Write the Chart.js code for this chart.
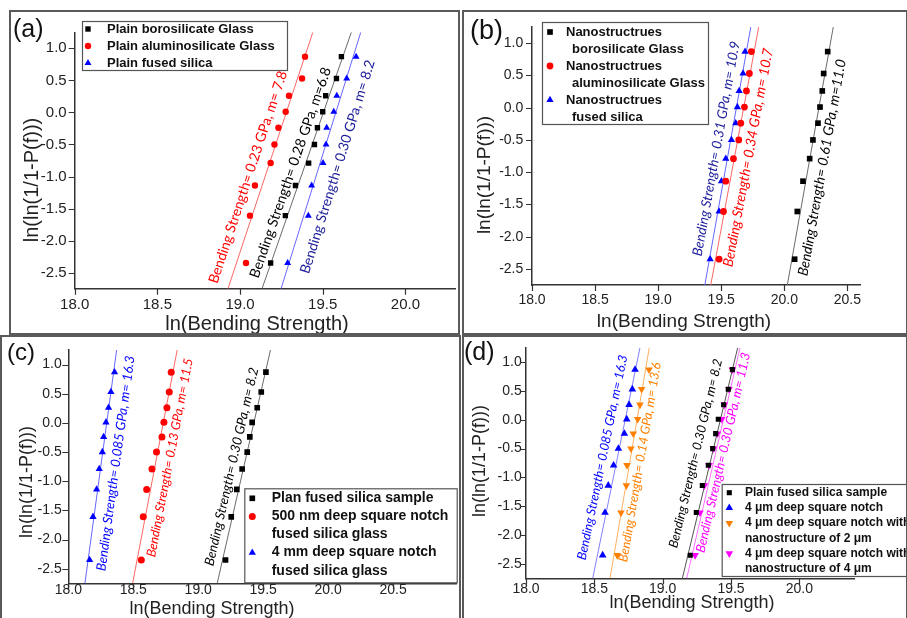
<!DOCTYPE html>
<html>
<head>
<meta charset="utf-8">
<title>Weibull plots of bending strength</title>
<script src="https://cdn.jsdelivr.net/npm/chart.js@4.4.0/dist/chart.umd.min.js"></script>
<style>
  html, body { margin: 0; padding: 0; background: #fff; }
  #fig { position: relative; width: 907px; height: 618px; overflow: hidden; background: #fff; }
  .panel { position: absolute; overflow: hidden; }
  .panel canvas { position: absolute; left: 0; top: 0; }
  .frame { position: absolute; box-sizing: border-box; border: 2px solid #5a5a5a; pointer-events: none; }
</style>
</head>
<body>
<div id="fig">
  <div class="panel" style="left:9px;top:10px;width:451px;height:325px"><canvas id="chartA" width="451" height="325"></canvas></div>
  <div class="panel" style="left:462px;top:10px;width:445px;height:325px"><canvas id="chartB" width="445" height="325"></canvas></div>
  <div class="panel" style="left:0;top:335px;width:461px;height:283px"><canvas id="chartC" width="461" height="283"></canvas></div>
  <div class="panel" style="left:462px;top:335px;width:445px;height:283px"><canvas id="chartD" width="445" height="283"></canvas></div>
  <div class="frame" style="left:9px;top:10px;width:451px;height:325px"></div>
  <div class="frame" style="left:462px;top:10px;width:446px;height:325px"></div>
  <div class="frame" style="left:0;top:335px;width:461px;height:290px"></div>
  <div class="frame" style="left:462px;top:335px;width:446px;height:290px"></div>
</div>
<script>
// ln(ln(1/(1-P))) plotting positions, same ten ranks for every series
const rankY = [-2.35, -1.61, -1.14, -0.79, -0.50, -0.24, 0.01, 0.26, 0.53, 0.87];
// fitted lines run from the bottom to the top of the y range
const fitY = [-2.75, 1.25];

const xTitle = 'ln(Bending Strength)';
const yTitle = 'ln(ln(1/1-P(f)))';

// (a) plain glasses
const aBoroX  = [19.185, 19.274, 19.335, 19.415, 19.450, 19.468, 19.500, 19.518, 19.583, 19.613];
const aAlumX  = [19.036, 19.060, 19.090, 19.185, 19.208, 19.232, 19.276, 19.296, 19.375, 19.393];
const aFusedX = [19.288, 19.413, 19.433, 19.502, 19.520, 19.524, 19.567, 19.585, 19.645, 19.702];
const aBoroFit  = [19.133, 19.673];
const aAlumFit  = [18.927, 19.440];
const aFusedFit = [19.248, 19.730];

// (b) nanostructured glasses
const bBoroX  = [20.082, 20.103, 20.148, 20.201, 20.227, 20.267, 20.283, 20.301, 20.312, 20.344];
const bAlumX  = [19.483, 19.518, 19.536, 19.597, 19.639, 19.655, 19.684, 19.700, 19.723, 19.739];
const bFusedX = [19.412, 19.483, 19.502, 19.536, 19.581, 19.615, 19.628, 19.642, 19.673, 19.689];
const bBoroFit  = [20.024, 20.388];
const bAlumFit  = [19.417, 19.797];
const bFusedFit = [19.370, 19.734];

// (c) notched fused silica
const cPlainX = [19.210, 19.254, 19.297, 19.338, 19.377, 19.397, 19.415, 19.454, 19.485, 19.521];
const c500nmX = [18.562, 18.577, 18.603, 18.644, 18.679, 18.721, 18.736, 18.759, 18.777, 18.792];
const c4mmX   = [18.164, 18.190, 18.218, 18.238, 18.262, 18.272, 18.290, 18.310, 18.328, 18.356];
const cPlainFit = [19.146, 19.556];
const c500nmFit = [18.495, 18.838];
const c4mmFit   = [18.128, 18.372];

// (d) notched + nanostructured fused silica
const dPlainX = [19.202, 19.246, 19.290, 19.334, 19.366, 19.388, 19.407, 19.446, 19.480, 19.510];
const dNotchX = [18.561, 18.578, 18.602, 18.641, 18.676, 18.720, 18.737, 18.754, 18.778, 18.798];
const dNano2X = [18.668, 18.695, 18.734, 18.739, 18.768, 18.785, 18.817, 18.834, 18.846, 18.900];
const dNano4X = [19.237, 19.273, 19.305, 19.339, 19.371, 19.400, 19.432, 19.451, 19.485, 19.510];
const dPlainFit = [19.144, 19.549];
const dNotchFit = [18.488, 18.834];
const dNano2Fit = [18.615, 18.902];
const dNano4Fit = [19.176, 19.566];

const SANS = '"Liberation Sans", Arial, sans-serif';
const major = v => Math.abs(v * 2 - Math.round(v * 2)) < 1e-6;

function drawMarker(ctx, s, x, y) {
  ctx.fillStyle = s.color;
  ctx.strokeStyle = s.color;
  Chart.helpers.drawPoint(ctx, { pointStyle: s.shape, radius: s.r, rotation: s.rot || 0, borderWidth: 0 }, x, y);
}

// ticks, notes along the fits, panel tag, axis titles and the boxed legend
function decor(P) {
  return {
    id: 'decor',
    afterDraw(chart) {
      const ctx = chart.ctx, xs = chart.scales.x, ys = chart.scales.y, ca = chart.chartArea;
      ctx.save();

      ctx.strokeStyle = '#333';
      ctx.lineWidth = 1.2;
      ctx.beginPath();
      xs.ticks.forEach(t => {
        const p = Math.round(xs.getPixelForValue(t.value)) + 0.5;
        ctx.moveTo(p, ca.bottom);
        ctx.lineTo(p, ca.bottom + (major(t.value) ? 6 : 3.5));
      });
      ys.ticks.forEach(t => {
        const p = Math.round(ys.getPixelForValue(t.value)) + 0.5;
        ctx.moveTo(ca.left, p);
        ctx.lineTo(ca.left - (major(t.value) ? 6 : 3.5), p);
      });
      ctx.stroke();

      const n = P.series.length;
      P.series.forEach((s, i) => {
        const pts = chart.getDatasetMeta(n + i).data;
        const ang = Math.atan2(pts[1].y - pts[0].y, pts[1].x - pts[0].x);
        const cx = xs.getPixelForValue(s.noteAt[0]);
        const cy = ys.getPixelForValue(s.noteAt[1]);
        ctx.font = P.noteStyle + ' 20px Lato';
        const fs = 20 * s.noteLen / ctx.measureText(s.note).width;
        ctx.font = P.noteStyle + ' ' + fs.toFixed(2) + 'px Lato';
        ctx.save();
        ctx.translate(cx, cy);
        ctx.rotate(ang);
        ctx.fillStyle = s.noteColor;
        ctx.textAlign = 'center';
        ctx.textBaseline = 'middle';
        ctx.fillText(s.note, 0, 0);
        ctx.restore();
      });

      ctx.textBaseline = 'middle';
      ctx.textAlign = 'left';
      ctx.fillStyle = '#111';
      ctx.font = P.tag.size + 'px ' + SANS;
      ctx.fillText(P.tag.text, P.tag.x, P.tag.y);

      ctx.fillStyle = '#222';
      ctx.textAlign = 'center';
      ctx.font = P.titleSize + 'px ' + SANS;
      ctx.fillText(xTitle, P.xTitle[0], P.xTitle[1]);
      ctx.save();
      ctx.translate(P.yTitle[0], P.yTitle[1]);
      ctx.rotate(-Math.PI / 2);
      ctx.fillText(yTitle, 0, 0);
      ctx.restore();

      const L = P.legend;
      ctx.fillStyle = '#fff';
      ctx.fillRect(L.x, L.y, L.w, L.h);
      ctx.strokeStyle = '#555';
      ctx.lineWidth = 1.2;
      ctx.strokeRect(L.x + 0.5, L.y + 0.5, L.w, L.h);
      ctx.font = 'bold ' + L.font + 'px ' + SANS;
      ctx.textAlign = 'left';
      let row = 0;
      P.series.forEach(s => {
        drawMarker(ctx, s, L.mx, L.y0 + row * L.dy);
        ctx.fillStyle = '#111';
        s.name.forEach((line, k) => {
          ctx.fillText(line, L.tx + (k ? L.indent : 0), L.y0 + (row + k) * L.dy);
        });
        row += s.name.length;
      });
      ctx.restore();
    }
  };
}

function makePanel(id, P) {
  const datasets = [];
  P.series.forEach(s => {
    datasets.push({
      label: s.name.join(' '),
      data: s.x.map((x, k) => ({ x, y: rankY[k] })),
      pointStyle: s.shape,
      pointRadius: s.r,
      pointRotation: s.rot || 0,
      backgroundColor: s.color,
      borderColor: s.color,
      borderWidth: 0,
      order: 1
    });
  });
  P.series.forEach(s => {
    datasets.push({
      label: s.name.join(' ') + ' fit',
      data: s.fit.map((x, k) => ({ x, y: fitY[k] })),
      showLine: true,
      borderColor: s.line,
      borderWidth: 1,
      pointRadius: 0,
      order: 2
    });
  });

  const tickFont = { family: SANS, size: P.tickSize };
  const label = v => (major(v) ? v.toFixed(1) : null);

  return new Chart(document.getElementById(id), {
    type: 'scatter',
    data: { datasets },
    options: {
      responsive: false,
      animation: false,
      events: [],
      layout: { padding: P.pad },
      plugins: { legend: { display: false }, tooltip: { enabled: false } },
      scales: {
        x: {
          type: 'linear', min: 18, max: P.xMax,
          afterFit: s => { s.height = P.xHeight; },
          grid: { display: false, drawTicks: false },
          border: { display: true, color: '#333', width: 1.5 },
          ticks: {
            stepSize: 0.25, includeBounds: false, autoSkip: false, maxRotation: 0,
            padding: P.xPad, color: '#222', font: tickFont, callback: label
          }
        },
        y: {
          type: 'linear', min: -2.75, max: 1.25,
          afterFit: s => { s.width = P.yWidth; },
          grid: { display: false, drawTicks: false },
          border: { display: true, color: '#333', width: 1.5 },
          ticks: {
            stepSize: 0.25, includeBounds: false, autoSkip: false,
            padding: P.yPad, color: '#222', font: tickFont, callback: label
          }
        }
      }
    },
    plugins: [decor(P)]
  });
}

makePanel('chartA', {
  xMax: 20.3, tickSize: 15, xPad: 7.3, yPad: 8, yWidth: 65.7, xHeight: 30,
  pad: { left: 0, top: 22.3, right: 5, bottom: 16.3 },
  titleSize: 20, xTitle: [248, 314], yTitle: [23, 170],
  tag: { text: '(a)', x: 4, y: 20, size: 25 },
  noteStyle: 'normal',
  legend: { x: 73, y: 11, w: 205, h: 49, mx: 79, tx: 98, indent: 0, y0: 19, dy: 17, font: 13 },
  series: [
    { name: ['Plain borosilicate Glass'], x: aBoroX, fit: aBoroFit, shape: 'rect', r: 3.8, color: '#000', line: '#6b6b6b',
      note: 'Bending Strength= 0.28 GPa, m=6.8', noteAt: [19.305, -0.94], noteLen: 222, noteColor: '#000' },
    { name: ['Plain aluminosilicate Glass'], x: aAlumX, fit: aAlumFit, shape: 'circle', r: 3.2, color: '#f00', line: '#ff6666',
      note: 'Bending Strength= 0.23 GPa, m= 7.8', noteAt: [19.048, -1.01], noteLen: 223, noteColor: '#f00' },
    { name: ['Plain fused silica'], x: aFusedX, fit: aFusedFit, shape: 'triangle', r: 4, color: '#00f', line: '#6666ff',
      note: 'Bending Strength= 0.30 GPa, m= 8.2', noteAt: [19.59, -0.85], noteLen: 223, noteColor: '#20209a' }
  ]
});

makePanel('chartB', {
  xMax: 20.6, tickSize: 14, xPad: 6.6, yPad: 8.7, yWidth: 70, xHeight: 30,
  pad: { left: 0, top: 16.7, right: 47, bottom: 20 },
  titleSize: 19, xTitle: [222, 312], yTitle: [22.3, 165],
  tag: { text: '(b)', x: 8, y: 21.5, size: 27 },
  noteStyle: 'italic',
  legend: { x: 80, y: 12, w: 166, h: 102, mx: 88, tx: 104, indent: 6, y0: 22, dy: 17, font: 13 },
  series: [
    { name: ['Nanostructrues', 'borosilicate Glass'], x: bBoroX, fit: bBoroFit, shape: 'rect', r: 4, color: '#000', line: '#6b6b6b',
      note: 'Bending Strength= 0.61 GPa, m=11.0', noteAt: [20.30, -0.93], noteLen: 220, noteColor: '#000' },
    { name: ['Nanostructrues', 'aluminosilicate Glass'], x: bAlumX, fit: bAlumFit, shape: 'circle', r: 3.4, color: '#f00', line: '#ff6666',
      note: 'Bending Strength= 0.34 GPa, m= 10.7', noteAt: [19.714, -0.775], noteLen: 222, noteColor: '#f00' },
    { name: ['Nanostructrues', 'fused silica'], x: bFusedX, fit: bFusedFit, shape: 'triangle', r: 4.2, color: '#00f', line: '#6666ff',
      note: 'Bending Strength= 0.31 GPa, m= 10.9', noteAt: [19.461, -0.636], noteLen: 218, noteColor: '#1c1c9c' }
  ]
});

makePanel('chartC', {
  xMax: 20.99, tickSize: 14, xPad: -1.5, yPad: 6.6, yWidth: 68.3, xHeight: 30,
  pad: { left: 0, top: 8.3, right: 4, bottom: 4.7 },
  titleSize: 18, xTitle: [212, 274], yTitle: [26.7, 147],
  tag: { text: '(c)', x: 7, y: 18, size: 24 },
  noteStyle: 'italic',
  legend: { x: 244.3, y: 153.3, w: 212.4, h: 94, mx: 252.3, tx: 271.7, indent: 0, y0: 163.3, dy: 18.1, font: 14 },
  series: [
    { name: ['Plan fused silica sample'], x: cPlainX, fit: cPlainFit, shape: 'rect', r: 4, color: '#000', line: '#6b6b6b',
      note: 'Bending Strength= 0.30 GPa, m= 8.2', noteAt: [19.257, -0.75], noteLen: 203, noteColor: '#000' },
    { name: ['500 nm deep square notch', 'fused silica glass'], x: c500nmX, fit: c500nmFit, shape: 'circle', r: 3.5, color: '#f00', line: '#ff6666',
      note: 'Bending Strength= 0.13 GPa, m= 11.5', noteAt: [18.782, -0.595], noteLen: 202, noteColor: '#f00' },
    { name: ['4 mm deep square notch', 'fused silica glass'], x: c4mmX, fit: c4mmFit, shape: 'triangle', r: 4.2, color: '#00f', line: '#6666ff',
      note: 'Bending Strength= 0.085 GPa, m= 16.3', noteAt: [18.365, -0.695], noteLen: 217, noteColor: '#00f' }
  ]
});

makePanel('chartD', {
  xMax: 20.4, tickSize: 14, xPad: 2.3, yPad: 4.3, yWidth: 64, xHeight: 30,
  pad: { left: 0, top: 3.3, right: 53, bottom: 9.7 },
  titleSize: 18, xTitle: [230, 268], yTitle: [18, 126],
  tag: { text: '(d)', x: 2, y: 18, size: 25 },
  noteStyle: 'italic',
  legend: { x: 259.7, y: 149, w: 200, h: 92, mx: 267.3, tx: 283, indent: 0, y0: 157.7, dy: 15.2, font: 12 },
  series: [
    { name: ['Plain fused silica sample'], x: dPlainX, fit: dPlainFit, shape: 'rect', r: 3.6, color: '#000', line: '#555',
      note: 'Bending Strength= 0.30 GPa, m= 8.2', noteAt: [19.242, -0.583], noteLen: 194, noteColor: '#000' },
    { name: ['4 \u03bcm deep square notch'], x: dNotchX, fit: dNotchFit, shape: 'triangle', r: 4.4, color: '#00f', line: '#8080ff',
      note: 'Bending Strength= 0.085 GPa, m= 16.3', noteAt: [18.56, -0.653], noteLen: 209, noteColor: '#00f' },
    { name: ['4 \u03bcm deep square notch with', 'nanostructure of 2 \u03bcm'], x: dNano2X, fit: dNano2Fit, shape: 'triangle', rot: 180, r: 4.4, color: '#ff8000', line: '#ffb060',
      note: 'Bending Strength= 0.14 GPa, m= 13.6', noteAt: [18.834, -0.737], noteLen: 202, noteColor: '#ff8000' },
    { name: ['4 \u03bcm deep square notch with', 'nanostructure of 4 \u03bcm'], x: dNano4X, fit: dNano4Fit, shape: 'triangle', rot: 180, r: 4.4, color: '#ff00ff', line: '#ff70ff',
      note: 'Bending Strength= 0.30 GPa, m= 11.3', noteAt: [19.443, -0.57], noteLen: 205, noteColor: '#ff00ff' }
  ]
});
</script>
</body>
</html>
